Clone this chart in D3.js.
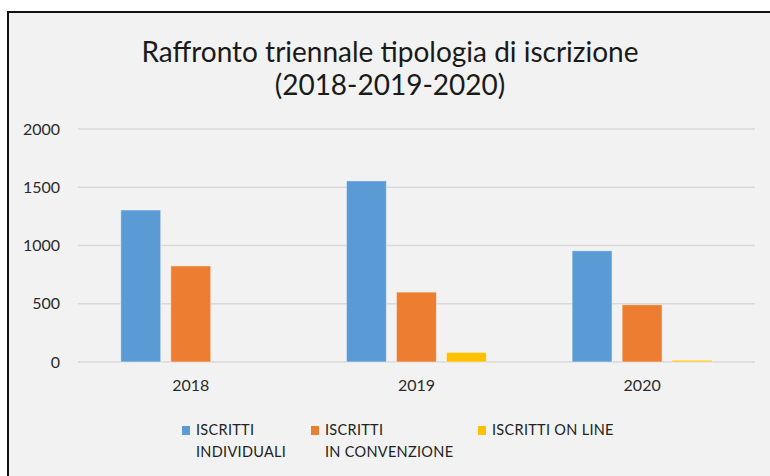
<!DOCTYPE html>
<html><head><meta charset="utf-8">
<script src="https://cdn.jsdelivr.net/npm/d3@7"></script>
<style>html,body{margin:0;padding:0;background:#fff;}svg{display:block;}</style>
</head><body>
<svg id="c" width="770" height="476"></svg>
<script>
const years = ["2018", "2019", "2020"];
const seriesNames = ["ISCRITTI INDIVIDUALI", "ISCRITTI IN CONVENZIONE", "ISCRITTI ON LINE"];
const individuali = [1305, 1555, 955];
const convenzione = [825, 600, 492];
const online = [0, 83, 15];
const yTicks = [0, 500, 1000, 1500, 2000];
const legendLines = [["ISCRITTI", "INDIVIDUALI"], ["ISCRITTI", "IN CONVENZIONE"], ["ISCRITTI ON LINE"]];
const colors = ["#5b9bd5", "#ed7d31", "#ffc000"];
const titleLines = ["Raffronto triennale tipologia di iscrizione", "(2018-2019-2020)"];

const values = [individuali, convenzione, online];
const svg = d3.select("#c");
const font = "Lato, 'Open Sans', 'Noto Sans', sans-serif";

svg.append("rect").attr("x", 8).attr("y", 12).attr("width", 780).attr("height", 480)
  .attr("fill", "#f2f2f2").attr("stroke", "#111").attr("stroke-width", 2);

const plotL = 78, plotR = 755, plotT = 129, plotB = 362;
const y = d3.scaleLinear().domain([0, 2000]).range([plotB, plotT]);
const x0 = d3.scaleBand().domain(years).range([plotL, plotR]).padding(0);
const x1 = d3.scaleBand().domain(seriesNames).range([42.75, 182.75]).paddingInner(0.2).paddingOuter(0);

// gridlines
svg.append("g").selectAll("line").data(yTicks).join("line")
  .attr("x1", plotL).attr("x2", plotR)
  .attr("y1", d => y(d)).attr("y2", d => y(d))
  .attr("stroke", "#d9d9d9").attr("stroke-width", 1.5);

// y labels
svg.append("g").selectAll("text").data(yTicks).join("text")
  .attr("x", 60).attr("y", d => y(d)).attr("dy", "0.35em")
  .attr("text-anchor", "end").attr("font-family", font).attr("font-size", 16)
  .attr("fill", "#2b2b2b").text(d => d);

// bars
const g = svg.append("g");
years.forEach((yr, i) => {
  seriesNames.forEach((s, j) => {
    const v = values[j][i];
    if (v <= 0) return;
    g.append("rect")
      .attr("x", x0(yr) + x1(s)).attr("width", x1.bandwidth())
      .attr("y", y(v)).attr("height", y(0) - y(v))
      .attr("fill", colors[j]).attr("stroke", "#ffffff").attr("stroke-opacity", 0.5).attr("stroke-width", 1);
  });
});

// x labels
svg.append("g").selectAll("text").data(years).join("text")
  .attr("x", d => x0(d) + x0.bandwidth() / 2).attr("y", 391)
  .attr("text-anchor", "middle").attr("font-family", font).attr("font-size", 16)
  .attr("fill", "#2b2b2b").text(d => d);

// title
svg.append("g").selectAll("text").data(titleLines).join("text")
  .attr("x", 390).attr("y", (d, i) => 62 + i * 33)
  .attr("text-anchor", "middle").attr("font-family", font).attr("font-size", 28)
  .attr("fill", "#1a1a1a").text(d => d);

// legend
const legX = [182, 311, 478];
seriesNames.forEach((s, j) => {
  const lg = svg.append("g");
  lg.append("rect").attr("x", legX[j]).attr("y", 426).attr("width", 8).attr("height", 9).attr("fill", colors[j]);
  legendLines[j].forEach((line, k) => {
    lg.append("text").attr("x", legX[j] + 14).attr("y", 435 + k * 22)
      .attr("font-family", font).attr("font-size", 14.5).attr("letter-spacing", 0.3)
      .attr("fill", "#222").text(line);
  });
});
</script>
</body></html>
